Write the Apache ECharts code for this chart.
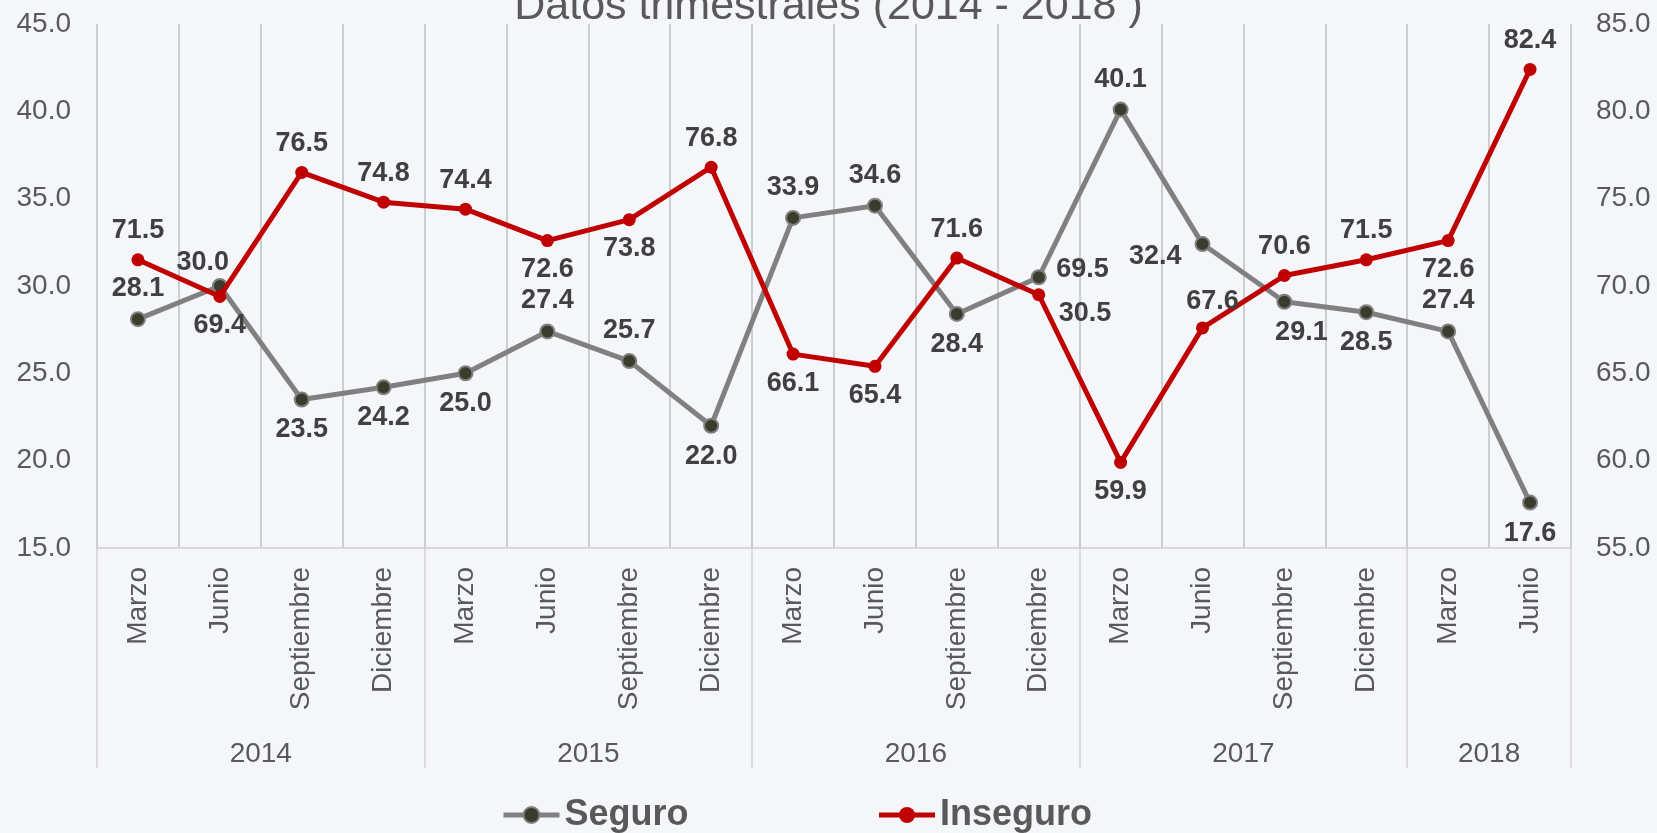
<!DOCTYPE html>
<html>
<head>
<meta charset="utf-8">
<title>Datos trimestrales</title>
<script src="https://cdn.jsdelivr.net/npm/echarts@6/dist/echarts.min.js"></script>
<style>
    html, body { margin: 0; padding: 0; background: #f4f6fa; }
    #chart { width: 1657px; height: 833px; }
</style>
</head>
<body>
<div id="chart"></div>
<script>
'use strict';

// categorias (trimestres) y años
var quarters = ['Marzo', 'Junio', 'Septiembre', 'Diciembre',
    'Marzo', 'Junio', 'Septiembre', 'Diciembre',
    'Marzo', 'Junio', 'Septiembre', 'Diciembre',
    'Marzo', 'Junio', 'Septiembre', 'Diciembre',
    'Marzo', 'Junio'];
var years = ['2014', '2015', '2016', '2017', '2018'];
var quartersPerYear = [4, 4, 4, 4, 2];

// series
var seguro = [28.1, 30.0, 23.5, 24.2, 25.0, 27.4, 25.7, 22.0, 33.9, 34.6, 28.4, 30.5, 40.1, 32.4, 29.1, 28.5, 27.4, 17.6];
var inseguro = [71.5, 69.4, 76.5, 74.8, 74.4, 72.6, 73.8, 76.8, 66.1, 65.4, 71.6, 69.5, 59.9, 67.6, 70.6, 71.5, 72.6, 82.4];

// ejes
var leftTicks = [15, 45, 5];
var rightTicks = [55, 85, 5];

// donde va cada etiqueta
var seguroLabelPos = ['t', 'tl', 'b', 'b', 'b', 't', 't', 'b', 't', 't', 'b', 'rd', 't', 'ld', 'br', 'b', 't', 'b'];
var inseguroLabelPos = ['t', 'b', 't', 't', 't', 'b', 'b', 't', 'b', 'b', 't', 'ru', 'b', 'tr', 't', 't', 'b', 't'];

var labelPlace = {
    t: { position: 'top' },
    b: { position: 'bottom' },
    l: { position: 'left' },
    r: { position: 'right' },
    tl: { position: 'top', offset: [-17, 7] },
    tr: { position: 'top', offset: [10, 3] },
    br: { position: 'bottom', offset: [17, 0] },
    ru: { position: 'right', offset: [2, -25] },
    rd: { position: 'right', offset: [3, 36] },
    ld: { position: 'left', offset: [-4, 12] }
};

function withLabels(values, places) {
    return values.map(function (v, i) {
        return { value: v, label: labelPlace[places[i]] };
    });
}

// limites y centros de cada año sobre el eje de trimestres
var yearBounds = [0];
var yearCenters = [];
quartersPerYear.forEach(function (n, i) {
    var start = yearBounds[i];
    yearBounds.push(start + n);
    yearCenters.push(start + n / 2);
});

var fontFamily = 'Liberation Sans, Arial, sans-serif';
var textGray = '#595959';

var chart = echarts.init(document.getElementById('chart'));

var option = {
    backgroundColor: '#f4f6fa',
    animation: false,
    textStyle: { fontFamily: fontFamily },
    title: {
        text: 'Datos trimestrales (2014 - 2018 )',
        left: 'center',
        top: -19,
        textStyle: {
            fontFamily: fontFamily,
            fontSize: 43,
            fontWeight: 'normal',
            color: textGray
        }
    },
    legend: {
        left: 496,
        top: 792,
        itemWidth: 56,
        itemHeight: 20,
        itemGap: 188,
        lineStyle: { width: 5 },
        textStyle: {
            fontFamily: fontFamily,
            fontSize: 36,
            fontWeight: 'bold',
            color: textGray
        },
        data: ['Seguro', 'Inseguro']
    },
    grid: {
        left: 97,
        right: 86,
        top: 24,
        bottom: 285
    },
    xAxis: [{
        type: 'category',
        data: quarters,
        boundaryGap: true,
        axisLine: { lineStyle: { color: '#cdcdcd', width: 1.5 } },
        axisTick: { show: false },
        axisLabel: {
            rotate: 90,
            margin: 19,
            fontSize: 28,
            color: textGray,
            fontFamily: fontFamily
        },
        splitLine: {
            show: true,
            lineStyle: { color: '#bfbfbf', width: 1.5 }
        }
    }, {
        type: 'value',
        position: 'bottom',
        min: 0,
        max: quarters.length,
        axisLine: { show: false },
        splitLine: { show: false },
        axisTick: {
            show: true,
            length: 220,
            customValues: yearBounds,
            lineStyle: { color: '#d3d3d3', width: 1.5 }
        },
        axisLabel: {
            margin: 192,
            fontSize: 28,
            color: textGray,
            fontFamily: fontFamily,
            customValues: yearCenters,
            formatter: function (v) {
                var i = yearCenters.indexOf(v);
                return i >= 0 ? years[i] : '';
            }
        }
    }],
    yAxis: [{
        type: 'value',
        min: leftTicks[0],
        max: leftTicks[1],
        interval: leftTicks[2],
        axisLine: { show: false },
        axisTick: { show: false },
        splitLine: { show: false },
        axisLabel: {
            margin: 26,
            fontSize: 28,
            color: textGray,
            fontFamily: fontFamily,
            formatter: function (v) { return v.toFixed(1); }
        }
    }, {
        type: 'value',
        min: rightTicks[0],
        max: rightTicks[1],
        interval: rightTicks[2],
        axisLine: { show: false },
        axisTick: { show: false },
        splitLine: { show: false },
        axisLabel: {
            margin: 25,
            fontSize: 28,
            color: textGray,
            fontFamily: fontFamily,
            formatter: function (v) { return v.toFixed(1); }
        }
    }],
    series: [{
        name: 'Seguro',
        type: 'line',
        xAxisIndex: 0,
        yAxisIndex: 0,
        data: withLabels(seguro, seguroLabelPos),
        symbol: 'circle',
        symbolSize: 14,
        lineStyle: { color: '#808080', width: 5 },
        itemStyle: { color: '#3a3c2d', borderColor: '#808080', borderWidth: 2 },
        label: {
            show: true,
            distance: 9,
            fontSize: 27,
            fontWeight: 'bold',
            color: '#404040',
            fontFamily: fontFamily,
            formatter: function (p) { return p.value.toFixed(1); }
        },
        z: 3
    }, {
        name: 'Inseguro',
        type: 'line',
        xAxisIndex: 0,
        yAxisIndex: 1,
        data: withLabels(inseguro, inseguroLabelPos),
        symbol: 'circle',
        symbolSize: 13,
        lineStyle: { color: '#c00000', width: 5 },
        itemStyle: { color: '#c00000' },
        label: {
            show: true,
            distance: 9,
            fontSize: 27,
            fontWeight: 'bold',
            color: '#404040',
            fontFamily: fontFamily,
            formatter: function (p) { return p.value.toFixed(1); }
        },
        z: 4
    }]
};

chart.setOption(option);
</script>
</body>
</html>
